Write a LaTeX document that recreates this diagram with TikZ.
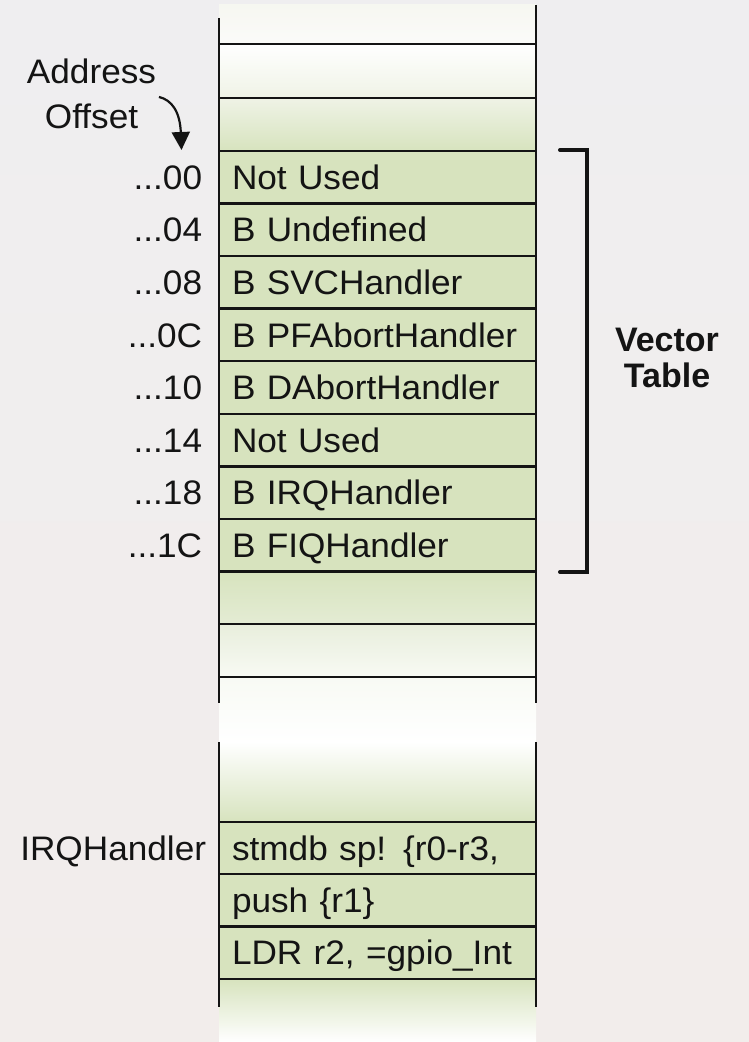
\documentclass[tikz,border=0pt]{standalone}
\usepackage{fontspec}
\setmainfont{Liberation Sans}
\newfontfamily\widesans{Liberation Sans}[FakeStretch=1.035]
\usetikzlibrary{arrows.meta}
\definecolor{cellg}{RGB}{215,227,190}
\definecolor{ink}{RGB}{20,20,20}
\definecolor{bgtop}{RGB}{239,238,240}
\definecolor{bgbot}{RGB}{242,237,235}
\definecolor{paleA}{RGB}{246,247,241}
\definecolor{paleB}{RGB}{251,251,249}
\definecolor{paleC}{RGB}{239,243,230}
\definecolor{paleD}{RGB}{228,236,212}
\definecolor{paleE}{RGB}{232,238,220}
\definecolor{paleF}{RGB}{248,250,244}
\definecolor{paleG}{RGB}{238,242,228}
\tikzset{
  cell/.style={rectangle, draw=none, minimum width=317pt, inner xsep=13pt, inner ysep=0pt,
    text width=291pt, align=left, text height=24pt, text depth=0pt,
    font=\widesans\fontsize{34}{40}\selectfont, anchor=center, text=ink},
  rowh/.style={minimum height=52.6pt},
  greencell/.style={cell, rowh, fill=cellg},
  rule/.style={line width=2.4pt, draw=ink},
  addr/.style={inner sep=0pt, text height=24pt, text depth=0pt,
    font=\widesans\fontsize{34}{40}\selectfont, anchor=east, text=ink},
  bracketline/.style={line width=4pt, draw=ink, line cap=round, line join=miter},
  arr/.style={line width=2.2pt, draw=ink, -{Triangle[width=18pt,length=18pt]}},
  title/.style={inner sep=0pt, align=center, anchor=south, text=ink},
}
\begin{document}
\begin{tikzpicture}[x=1pt,y=1pt]
% background
\shade[top color=bgtop, bottom color=bgbot] (0,0) rectangle (749,1042);
\useasboundingbox (0,0) rectangle (749,1042);

% upper column cells
\node[cell, minimum height=39pt, top color=paleA, bottom color=paleB] (t0) at (377.5,1017.5) {};
\node[cell, minimum height=54pt, top color=white, bottom color=paleC] (t1) at (377.5,971) {};
\node[cell, minimum height=53pt, top color=paleC, bottom color=cellg] (t2) at (377.5,917.5) {};
\node[greencell] (v0) at (377.5,864.7) {Not Used};
\node[greencell] (v1) at (377.5,812.1) {B Undefined};
\node[greencell] (v2) at (377.5,759.5) {B SVCHandler};
\node[greencell] (v3) at (377.5,706.9) {B PFAbortHandler};
\node[greencell] (v4) at (377.5,654.3) {B DAbortHandler};
\node[greencell] (v5) at (377.5,601.7) {Not Used};
\node[greencell] (v6) at (377.5,549.1) {B IRQHandler};
\node[greencell] (v7) at (377.5,496.5) {B FIQHandler};
\node[cell, rowh, top color=cellg, bottom color=paleD] (t11) at (377.5,443.9) {};
\node[cell, rowh, top color=paleE, bottom color=paleF] (t12) at (377.5,391.3) {};
% gap
\shade[top color=paleF, bottom color=white] (219,300) rectangle (536,365);

% lower column cells
\node[cell, minimum height=80pt, top color=white, middle color=paleG, bottom color=cellg] (b0) at (377.5,260) {};
\node[cell, minimum height=52.3pt, fill=cellg] (b1) at (377.5,193.8) {stmdb sp! \{r0-r3,};
\node[cell, minimum height=52.3pt, fill=cellg] (b2) at (377.5,141.5) {push \{r1\}};
\node[cell, minimum height=52.3pt, fill=cellg] (b3) at (377.5,89.2) {LDR r2, =gpio\_Int};
\node[cell, minimum height=63pt, top color=cellg, middle color=paleC, bottom color=white] (b4) at (377.5,31.5) {};

% horizontal rules
\foreach \c in {t1,t2,v0,v1,v2,v3,v4,v5,v6,v7,t11,t12,b1,b2,b3,b4}
  \draw[rule] (\c.north west) -- (\c.north east);
\draw[rule] (t12.south west) -- (t12.south east);

% vertical rules
\coordinate (lt) at (219,1024);
\coordinate (rt) at (536,1037);
\coordinate (lm) at (219,339);
\coordinate (rm) at (536,339);
\coordinate (lb1) at (219,300);
\coordinate (rb1) at (536,300);
\coordinate (lb2) at (219,35);
\coordinate (rb2) at (536,35);
\draw[rule] (lt) -- (lm);
\draw[rule] (rt) -- (rm);
\draw[rule] (lb1) -- (lb2);
\draw[rule] (rb1) -- (rb2);

% address labels
\node[addr] (a0) at ([xshift=-16.5pt]v0.west) {...00};
\node[addr] (a1) at ([xshift=-16.5pt]v1.west) {...04};
\node[addr] (a2) at ([xshift=-16.5pt]v2.west) {...08};
\node[addr] (a3) at ([xshift=-16.5pt]v3.west) {...0C};
\node[addr] (a4) at ([xshift=-16.5pt]v4.west) {...10};
\node[addr] (a5) at ([xshift=-16.5pt]v5.west) {...14};
\node[addr] (a6) at ([xshift=-16.5pt]v6.west) {...18};
\node[addr] (a7) at ([xshift=-16.5pt]v7.west) {...1C};
\node[addr] (irq) at ([xshift=-12.5pt]b1.west) {IRQHandler};

% Address Offset with arrow
\node[title, font=\widesans\fontsize{34}{45}\selectfont] (ao) at (91.5,913) {Address\\Offset};
\coordinate (as) at (159,945);
\coordinate (ac1) at (172,942);
\coordinate (ac2) at (180,930);
\coordinate (ae) at (181.5,892);
\draw[arr] (as) .. controls (ac1) and (ac2) .. (ae);

% bracket and Vector Table
\coordinate (k1) at (560,892);
\coordinate (k2) at (587,892);
\coordinate (k3) at (587,470);
\coordinate (k4) at (560,470);
\draw[bracketline] (k1) -- (k2) -- (k3) -- (k4);
\node[title, font=\bfseries\fontsize{34}{36}\selectfont] (vt) at (667,654) {Vector\\Table};
\end{tikzpicture}
\end{document}
